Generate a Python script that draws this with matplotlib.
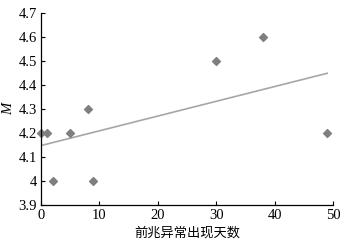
import matplotlib
matplotlib.use("Agg")
import matplotlib.pyplot as plt
import numpy as np

days = [0, 1, 2, 5, 8, 9, 30, 38, 49]
mag = [4.2, 4.2, 4.0, 4.2, 4.3, 4.0, 4.5, 4.6, 4.2]

plt.rcParams['font.family'] = ['Liberation Serif', 'Noto Sans CJK SC']

fig = plt.figure(figsize=(3.62, 2.46), dpi=100)
ax = fig.add_axes([0.113, 0.167, 0.807, 0.78])

# linear trend
k, b = np.polyfit(days, mag, 1)
xl = np.array([0, 49])
ax.plot(xl, k * xl + b, color='#a6a6a6', lw=1.2, zorder=1)
ax.scatter(days, mag, marker='D', s=16, color='#7f7f7f', zorder=2, clip_on=False)

ax.set_xlim(0, 50)
ax.set_ylim(3.9, 4.7)
ax.set_xticks([0, 10, 20, 30, 40, 50])
ax.set_yticks([3.9, 4.0, 4.1, 4.2, 4.3, 4.4, 4.5, 4.6, 4.7])
ax.set_yticklabels(['3.9', '4', '4.1', '4.2', '4.3', '4.4', '4.5', '4.6', '4.7'])
ax.tick_params(direction='in', length=3, width=0.8, labelsize=10.5, pad=3)
for s in ['top', 'right']:
    ax.spines[s].set_visible(False)
for s in ['left', 'bottom']:
    ax.spines[s].set_linewidth(0.9)

ax.set_xlabel('前兆异常出现天数', family=['Noto Sans CJK SC'], fontsize=9.5, labelpad=3)
ax.set_ylabel('M', style='italic', fontsize=10.5, labelpad=2)

fig.savefig('out.png', dpi=100)
